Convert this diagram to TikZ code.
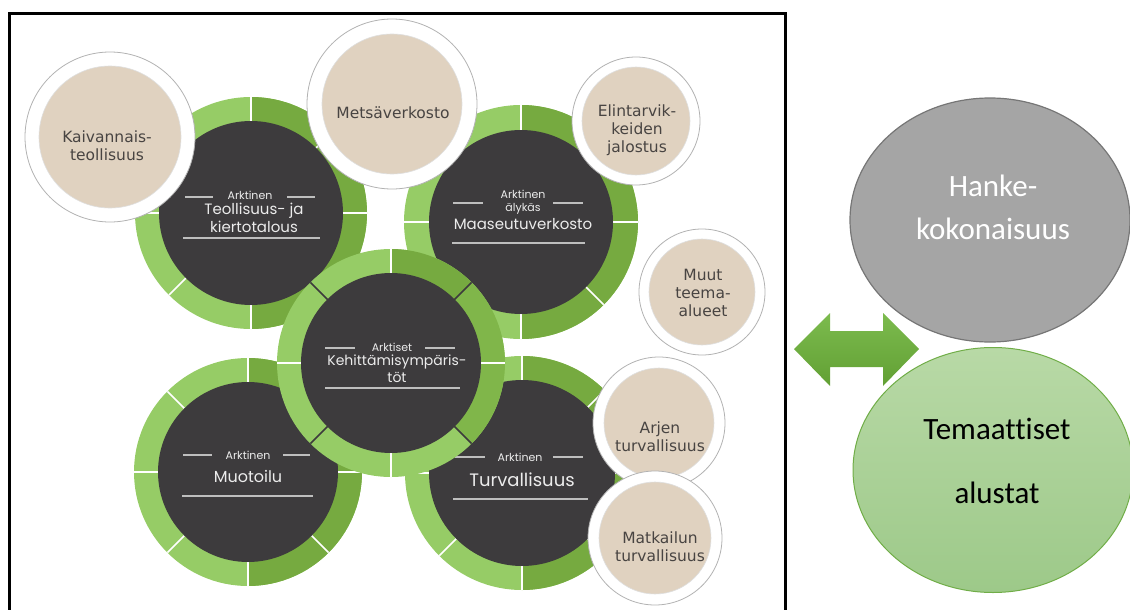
\documentclass[tikz,border=0pt]{standalone}
\usepackage{fontspec}
\usepackage{tikz}
\usetikzlibrary{positioning, shapes.geometric, calc}

\newfontfamily\ringfont{Poppins}
\newfontfamily\discfont{DejaVu Sans}
\newfontfamily\boxfont[Ligatures=NoCommon]{Carlito}

\definecolor{lightring}{RGB}{150,204,102}
\definecolor{darkring}{RGB}{118,170,64}
\definecolor{hubring}{RGB}{128,182,74}
\definecolor{coal}{RGB}{61,59,61}
\definecolor{beige}{RGB}{224,210,192}
\definecolor{beigetext}{RGB}{72,68,66}
\definecolor{ringtext}{RGB}{236,236,236}
\definecolor{rulegray}{RGB}{190,190,190}
\definecolor{hankefill}{RGB}{165,165,165}
\definecolor{hankeline}{RGB}{118,118,118}
\definecolor{alustatop}{RGB}{184,217,166}
\definecolor{alustabottom}{RGB}{157,201,137}
\definecolor{alustaline}{RGB}{112,173,71}
\definecolor{arrowtop}{RGB}{124,187,78}
\definecolor{arrowbottom}{RGB}{98,160,52}

% green ring: centre, outer radius, divider colour
\newcommand{\greenring}[3]{%
  \fill[lightring] (#1) circle (#2);
  \fill[darkring] (#1) -- ++(-90:#2) arc[start angle=-90, end angle=90, radius=#2] -- cycle;
  \foreach \a in {0,45,...,315}
    \draw[#3, line width=1.6pt] (#1) -- ++(\a:#2);
}

\begin{document}
\begin{tikzpicture}[
    x=1pt, y=-1pt,
    ringdisc/.style={circle, fill=coal, inner sep=0pt},
    smalltag/.style={text=ringtext, font=\ringfont\fontsize{11}{13}\selectfont, align=center},
    ringtitle/.style={text=ringtext, align=center},
    rulebar/.style={rulegray, line width=1.4pt},
    underbar/.style={rulegray, line width=2pt},
    whitedisc/.style={circle, fill=white, draw=gray!60, line width=0.8pt, inner sep=0pt},
    beigedisc/.style={circle, fill=beige, draw=gray!25, line width=0.6pt, inner sep=0pt},
    beigelabel/.style={text=beigetext, font=\discfont\fontsize{15.5}{18}\selectfont, align=center}
]
    \useasboundingbox (0,0) rectangle (1130,610);

    % Frame
    \draw[line width=3pt] (9,616) -- (9,14) -- (785,14) -- (785,616);

    % Ring centres
    \coordinate (teol) at (251,213);
    \coordinate (maas) at (521,222);
    \coordinate (muot) at (248,472);
    \coordinate (turv) at (522,473);
    \coordinate (kehi) at (391,363);

    % Teollisuus ring
    \greenring{teol}{116}{white}
    \node[ringdisc, minimum size=184pt] (teoldisc) at (teol) {};
    \node[smalltag] (teoltag) at (250,195) {Arktinen};
    \node[ringtitle, font=\ringfont\fontsize{15}{18}\selectfont] (teolname) at (254,218) {Teollisuus- ja\\kiertotalous};
    \draw[rulebar] (185,197) -- (213,197);
    \draw[rulebar] (287,197) -- (315,197);
    \draw[underbar] (183,238) -- (320,238);

    % Maaseutu ring
    \greenring{maas}{117}{white}
    \node[ringdisc, minimum size=184pt] (maasdisc) at (maas) {};
    \node[smalltag] (maastag) at (523,202) {Arktinen\\älykäs};
    \node[ringtitle, font=\ringfont\fontsize{15}{18}\selectfont] (maasname) at (523,224) {Maaseutuverkosto};
    \draw[rulebar] (453,203) -- (483,203);
    \draw[rulebar] (553,203) -- (583,203);
    \draw[underbar] (452,243) -- (585,243);

    % Muotoilu ring
    \greenring{muot}{114}{white}
    \node[ringdisc, minimum size=180pt] (muotdisc) at (muot) {};
    \node[smalltag] (muottag) at (248,455) {Arktinen};
    \node[ringtitle, font=\ringfont\fontsize{16}{18}\selectfont] (muotname) at (248,476) {Muotoilu};
    \draw[rulebar] (183,455) -- (212,455);
    \draw[rulebar] (283,455) -- (310,455);
    \draw[underbar] (182,496) -- (313,496);

    % Turvallisuus ring
    \greenring{turv}{117}{white}
    \node[ringdisc, minimum size=186pt] (turvdisc) at (turv) {};
    \node[smalltag] (turvtag) at (520,457) {Arktinen};
    \node[ringtitle, font=\ringfont\fontsize{18}{20}\selectfont] (turvname) at (522,480) {Turvallisuus};
    \draw[rulebar] (455,457) -- (485,457);
    \draw[rulebar] (553,457) -- (583,457);
    \draw[underbar] (453,499) -- (588,499);

    % Kehittamisymparistot ring (centre)
    \fill[lightring] (kehi) circle (114);
    \fill[hubring] (kehi) -- ++(-45:114) arc[start angle=-45, end angle=45, radius=114] -- cycle;
    \fill[darkring] (kehi) -- ++(-90:114) arc[start angle=-90, end angle=-45, radius=114] -- cycle;
    \foreach \a in {0,90,180,270}
        \draw[white, line width=1.6pt] (kehi) -- ++(\a:114);
    \foreach \a in {45,135,225,315}
        \draw[coal, line width=1.6pt] (kehi) -- ++(\a:114);
    \node[ringdisc, minimum size=180pt] (kehidisc) at (kehi) {};
    \node[smalltag] (kehitag) at (392,347) {Arktiset};
    \node[ringtitle, font=\ringfont\fontsize{14}{17}\selectfont] (kehiname) at (397,369) {Kehittämisympäris-\\töt};
    \draw[rulebar] (325,348) -- (355,348);
    \draw[rulebar] (425,348) -- (455,348);
    \draw[underbar] (325,388) -- (460,388);

    % Theme circles
    \node[whitedisc, minimum size=170pt] (kaivring) at (110,137) {};
    \node[beigedisc, minimum size=142pt] (kaiv) at (kaivring) {};
    \node[beigelabel] (kaivtext) at (107,146) {Kaivannais-\\teollisuus};

    \node[whitedisc, minimum size=170pt] (metsring) at (392,104) {};
    \node[beigedisc, minimum size=140pt] (mets) at (metsring) {};
    \node[beigelabel] (metstext) at (393,113) {Metsäverkosto};

    \node[whitedisc, minimum size=128pt] (elinring) at (636,121) {};
    \node[beigedisc, minimum size=108pt] (elin) at (elinring) {};
    \node[beigelabel] (elintext) at (637,130) {Elintarvik-\\keiden\\jalostus};

    \node[whitedisc, minimum size=126pt] (muutring) at (702,292) {};
    \node[beigedisc, minimum size=106pt] (muut) at (muutring) {};
    \node[beigelabel] (muuttext) at (703,293) {Muut\\teema-\\alueet};

    \node[whitedisc, minimum size=132pt] (arjering) at (659,423) {};
    \node[beigedisc, minimum size=110pt] (arje) at (arjering) {};
    \node[beigelabel] (arjetext) at (660,437) {Arjen\\turvallisuus};

    \node[whitedisc, minimum size=134pt] (matkring) at (655,538) {};
    \node[beigedisc, minimum size=112pt] (matk) at (matkring) {};
    \node[beigelabel] (matktext) at (660,547) {Matkailun\\turvallisuus};

    % Double arrow
    \shade[top color=arrowtop, bottom color=arrowbottom]
        (794,349) -- (830,313) -- (830,331) -- (883,331) -- (883,313) -- (919,349)
        -- (883,386) -- (883,367) -- (830,367) -- (830,386) -- cycle;

    % Hanke and alustat ellipses
    \node[ellipse, minimum width=280pt, minimum height=244pt, fill=hankefill, draw=hankeline, line width=1.2pt] (hanke) at (990,220) {};
    \node[text=white, font=\boxfont\fontsize{31}{43}\selectfont, align=center] (hanketext) at (993,207) {Hanke-\\kokonaisuus};
    \node[ellipse, minimum width=280pt, minimum height=245pt, top color=alustatop, bottom color=alustabottom, draw=alustaline, line width=1pt] (alusta) at (993,470) {};
    \node[font=\boxfont\fontsize{31}{64}\selectfont, align=center] (alustatext) at (997,461) {Temaattiset\\alustat};

\end{tikzpicture}
\end{document}
